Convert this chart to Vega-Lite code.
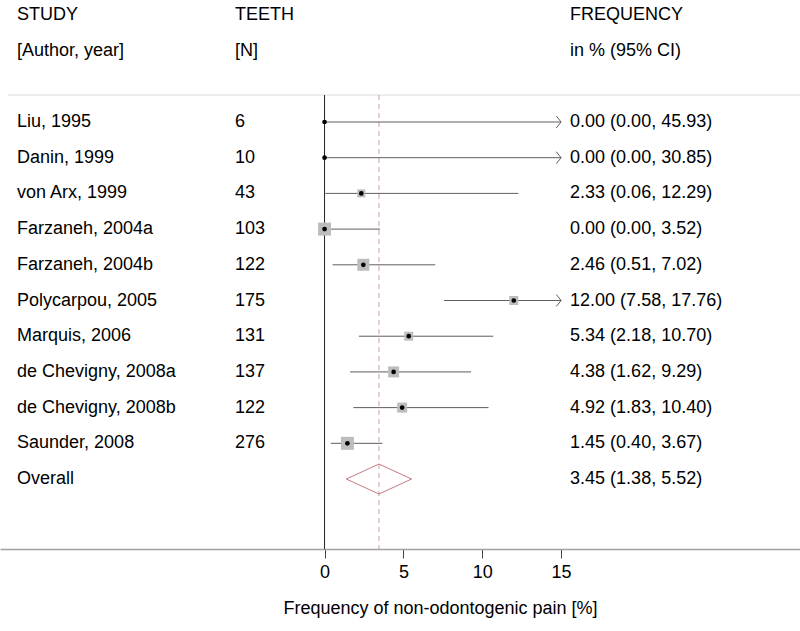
{
  "$schema": "https://vega.github.io/schema/vega-lite/v6.json",
  "width": 800,
  "height": 549,
  "autosize": {"type": "none"},
  "padding": {"left": 0, "top": 0, "right": 0, "bottom": 82},
  "background": "white",
  "config": {
    "view": {"stroke": null},
    "font": "Liberation Sans",
    "text": {"font": "Liberation Sans", "fontSize": 18, "color": "#000000"}
  },
  "datasets": {
    "studies": [
      {"row": 1, "study": "Liu, 1995", "n": "6", "est": 0.0, "low": 0.0, "high": 45.93, "weight": 0, "label": "0.00 (0.00, 45.93)"},
      {"row": 2, "study": "Danin, 1999", "n": "10", "est": 0.0, "low": 0.0, "high": 30.85, "weight": 0, "label": "0.00 (0.00, 30.85)"},
      {"row": 3, "study": "von Arx, 1999", "n": "43", "est": 2.33, "low": 0.06, "high": 12.29, "weight": 6.9, "label": "2.33 (0.06, 12.29)"},
      {"row": 4, "study": "Farzaneh, 2004a", "n": "103", "est": 0.0, "low": 0.0, "high": 3.52, "weight": 18.2, "label": "0.00 (0.00, 3.52)"},
      {"row": 5, "study": "Farzaneh, 2004b", "n": "122", "est": 2.46, "low": 0.51, "high": 7.02, "weight": 15.5, "label": "2.46 (0.51, 7.02)"},
      {"row": 6, "study": "Polycarpou, 2005", "n": "175", "est": 12.0, "low": 7.58, "high": 17.76, "weight": 8.7, "label": "12.00 (7.58, 17.76)"},
      {"row": 7, "study": "Marquis, 2006", "n": "131", "est": 5.34, "low": 2.18, "high": 10.7, "weight": 8.7, "label": "5.34 (2.18, 10.70)"},
      {"row": 8, "study": "de Chevigny, 2008a", "n": "137", "est": 4.38, "low": 1.62, "high": 9.29, "weight": 13.0, "label": "4.38 (1.62, 9.29)"},
      {"row": 9, "study": "de Chevigny, 2008b", "n": "122", "est": 4.92, "low": 1.83, "high": 10.4, "weight": 10.8, "label": "4.92 (1.83, 10.40)"},
      {"row": 10, "study": "Saunder, 2008", "n": "276", "est": 1.45, "low": 0.4, "high": 3.67, "weight": 18.2, "label": "1.45 (0.40, 3.67)"}
    ],
    "labels": [
      {"row": -2, "c1": "STUDY", "c2": "TEETH", "c3": "FREQUENCY"},
      {"row": -1, "c1": "[Author, year]", "c2": "[N]", "c3": "in % (95% CI)"},
      {"row": 11, "c1": "Overall", "c2": "", "c3": "3.45 (1.38, 5.52)"}
    ],
    "diamond": [
      {"ord": 1, "x": 1.38, "row": 11},
      {"ord": 2, "x": 3.45, "row": 10.58},
      {"ord": 3, "x": 5.52, "row": 11},
      {"ord": 4, "x": 3.45, "row": 11.42},
      {"ord": 5, "x": 1.38, "row": 11}
    ]
  },
  "encoding": {
    "x": {"type": "quantitative", "scale": {"domain": [-20.58, 30.15], "nice": false, "zero": false}},
    "y": {"type": "quantitative", "scale": {"domain": [-2.417, 12.96], "nice": false, "zero": false, "reverse": true}, "axis": null}
  },
  "layer": [
    {
      "data": {"values": [{}]},
      "mark": {"type": "rule", "color": "#dcdcdc", "strokeWidth": 1.2},
      "encoding": {"x": {"datum": -20.07}, "x2": {"datum": 30.15}, "y": {"datum": 0.244}}
    },
    {
      "data": {"values": [{}]},
      "mark": {"type": "rule", "color": "#222222", "strokeWidth": 1},
      "encoding": {"x": {"datum": 0}, "y": {"datum": 0.244}, "y2": {"datum": 12.96}}
    },
    {
      "data": {"values": [{}]},
      "mark": {"type": "rule", "color": "#cf9ea3", "strokeWidth": 1, "strokeDash": [5, 4]},
      "encoding": {"x": {"datum": 3.45}, "y": {"datum": 0.244}, "y2": {"datum": 12.96}}
    },
    {
      "data": {"name": "studies"},
      "transform": [{"calculate": "min(datum.high, 15)", "as": "high_shown"}],
      "mark": {"type": "rule", "color": "#5e5e5e", "strokeWidth": 1},
      "encoding": {"x": {"field": "low"}, "x2": {"field": "high_shown"}, "y": {"field": "row"}}
    },
    {
      "data": {"name": "studies"},
      "transform": [{"filter": "datum.high > 15"}],
      "mark": {"type": "point", "shape": "M-0.8,-1L0,0L-0.8,1", "filled": false, "stroke": "#5e5e5e", "strokeWidth": 1, "size": 144, "opacity": 1},
      "encoding": {"x": {"datum": 15}, "y": {"field": "row"}}
    },
    {
      "data": {"name": "studies"},
      "transform": [{"filter": "datum.weight > 0"}],
      "mark": {"type": "point", "shape": "square", "filled": true, "color": "#bdbdbd", "opacity": 1},
      "encoding": {
        "x": {"field": "est"},
        "y": {"field": "row"},
        "size": {"field": "weight", "type": "quantitative", "scale": {"domain": [0, 18.2], "range": [0, 169], "zero": true}, "legend": null}
      }
    },
    {
      "data": {"name": "studies"},
      "mark": {"type": "point", "shape": "circle", "filled": true, "color": "#000000", "size": 22, "opacity": 1},
      "encoding": {"x": {"field": "est"}, "y": {"field": "row"}}
    },
    {
      "data": {"name": "diamond"},
      "mark": {"type": "line", "color": "#c47a7e", "strokeWidth": 1},
      "encoding": {"x": {"field": "x"}, "y": {"field": "row"}, "order": {"field": "ord"}}
    },
    {
      "data": {"name": "studies"},
      "mark": {"type": "text", "align": "left", "baseline": "middle"},
      "encoding": {"x": {"datum": -19.5}, "y": {"field": "row"}, "text": {"field": "study"}}
    },
    {
      "data": {"name": "studies"},
      "mark": {"type": "text", "align": "left", "baseline": "middle"},
      "encoding": {"x": {"datum": -5.68}, "y": {"field": "row"}, "text": {"field": "n"}}
    },
    {
      "data": {"name": "studies"},
      "mark": {"type": "text", "align": "left", "baseline": "middle"},
      "encoding": {"x": {"datum": 15.57}, "y": {"field": "row"}, "text": {"field": "label"}}
    },
    {
      "data": {"name": "labels"},
      "mark": {"type": "text", "align": "left", "baseline": "middle"},
      "encoding": {"x": {"datum": -19.5}, "y": {"field": "row"}, "text": {"field": "c1"}}
    },
    {
      "data": {"name": "labels"},
      "mark": {"type": "text", "align": "left", "baseline": "middle"},
      "encoding": {"x": {"datum": -5.68}, "y": {"field": "row"}, "text": {"field": "c2"}}
    },
    {
      "data": {"name": "labels"},
      "mark": {"type": "text", "align": "left", "baseline": "middle"},
      "encoding": {
        "x": {
          "datum": 15.57,
          "axis": {
            "orient": "bottom",
            "values": [0, 5, 10, 15],
            "grid": false,
            "domainColor": "#a0a0a0",
            "domainWidth": 1.5,
            "tickColor": "#444444",
            "tickSize": 9,
            "tickWidth": 1,
            "labelFont": "Liberation Sans",
            "labelFontSize": 18,
            "labelColor": "#000000",
            "labelPadding": 5,
            "title": "Frequency of non-odontogenic pain [%]",
            "titleFont": "Liberation Sans",
            "titleFontSize": 18,
            "titleFontWeight": "normal",
            "titleColor": "#000000",
            "titleX": 440,
            "titlePadding": 18
          }
        },
        "y": {"field": "row"},
        "text": {"field": "c3"}
      }
    }
  ]
}
